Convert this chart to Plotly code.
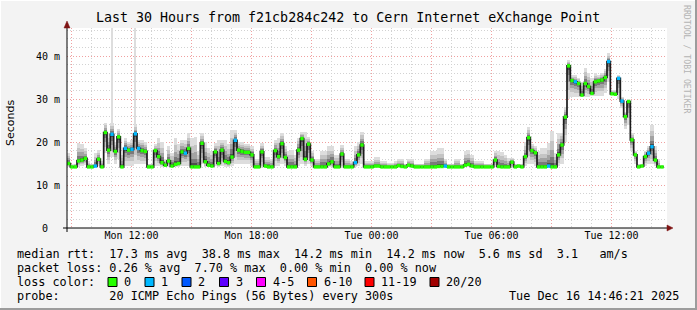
import plotly.graph_objects as go
from datetime import datetime, timedelta

# ---------------- data ----------------
title_text = "Last 30 Hours from f21cb284c242 to Cern Internet eXchange Point"
start = datetime(2025, 12, 15, 8, 46, 21)
end = start + timedelta(hours=30)
step_minutes = 10

median_ms = [
    15.0, 14.2, 14.2, 15.6, 15.8, 16.2, 14.2, 14.2, 14.4, 16.0,
    14.2, 22.2, 18.1, 21.8, 17.8, 21.2, 14.2, 18.5, 18.1, 18.3,
    21.9, 18.5, 18.0, 17.8, 14.2, 14.2, 18.0, 16.6, 15.2, 14.6,
    15.6, 14.4, 14.8, 15.0, 17.7, 17.4, 18.5, 14.2, 14.2, 14.2,
    19.7, 15.4, 14.6, 14.4, 17.7, 15.0, 18.1, 15.5, 15.2, 16.5,
    20.4, 18.1, 17.8, 17.6, 17.6, 17.0, 14.2, 14.2, 17.7, 14.4,
    14.2, 14.2, 18.0, 16.6, 19.6, 16.4, 14.2, 14.2, 14.2, 18.1,
    20.8, 16.0, 19.5, 15.8, 14.2, 14.2, 14.2, 14.2, 14.9, 15.4,
    14.2, 14.2, 17.2, 14.2, 14.2, 14.2, 15.2, 17.0, 19.3, 14.2,
    14.2, 14.2, 14.4, 14.4, 14.2, 14.2, 14.2, 14.2, 14.2, 14.5,
    14.3, 14.2, 14.6, 14.4, 14.2, 14.2, 14.2, 14.2, 14.2, 14.2,
    14.2, 14.3, 14.3, 14.4, 14.2, 14.2, 14.2, 14.2, 14.2, 14.6,
    14.8, 14.4, 14.2, 14.2, 14.2, 14.2, 14.2, 14.2, 15.8, 14.3,
    14.2, 14.2, 14.2, 15.3, 14.2, 14.4, 14.2, 16.6, 21.0, 18.0,
    17.5, 14.2, 14.2, 14.2, 14.4, 14.2, 14.2, 17.0, 19.3, 25.8,
    37.7, 34.3, 34.0, 33.6, 30.9, 33.6, 32.9, 31.3, 34.0, 34.2,
    34.4, 35.0, 38.7, 31.2, 31.1, 34.8, 29.5, 25.9, 29.4, 20.5,
    17.0, 14.2, 14.4, 16.6, 17.4, 18.9, 15.8, 14.2, 14.2, None,
]
smoke_hi_ms = [
    17.5, 14.8, 15.0, 19.8, 19.5, 18.5, 15.5, 15.0, 17.4, 18.1,
    15.5, 24.5, 22.0, 24.4, 20.0, 23.0, 17.0, 21.0, 20.0, 20.5,
    24.0, 20.5, 20.5, 20.0, 15.0, 15.0, 19.5, 21.0, 20.0, 16.0,
    19.0, 17.5, 21.0, 19.5, 20.5, 20.5, 22.0, 21.0, 21.2, 18.0,
    22.0, 20.0, 18.5, 18.0, 19.7, 20.5, 20.5, 20.5, 19.5, 22.8,
    22.8, 20.0, 20.0, 19.5, 19.5, 19.0, 16.0, 16.0, 19.7, 16.5,
    16.5, 16.0, 20.5, 21.0, 22.0, 19.0, 18.0, 18.1, 17.0, 21.0,
    22.4, 22.4, 21.2, 18.0, 16.0, 16.0, 18.0, 18.0, 19.0, 19.0,
    17.0, 17.0, 19.3, 16.0, 16.0, 15.5, 19.0, 20.0, 22.4, 15.5,
    15.5, 15.5, 16.5, 16.5, 15.5, 15.5, 15.2, 15.2, 15.5, 16.0,
    16.0, 15.0, 16.0, 16.0, 15.0, 15.0, 15.0, 16.0, 16.0, 18.0,
    18.0, 18.5, 18.5, 16.0, 15.0, 15.0, 16.0, 16.0, 15.0, 18.0,
    18.1, 17.0, 15.5, 15.5, 15.5, 15.0, 15.0, 15.0, 18.0, 18.0,
    17.7, 17.0, 16.2, 16.2, 15.0, 15.0, 15.0, 20.0, 23.5, 19.5,
    19.0, 18.0, 18.5, 18.5, 19.7, 22.5, 17.4, 22.1, 22.1, 28.2,
    39.1, 35.5, 35.5, 35.0, 34.0, 37.2, 36.0, 35.0, 36.0, 35.5,
    36.0, 37.0, 40.6, 32.0, 32.0, 35.5, 30.5, 27.0, 30.0, 22.1,
    18.0, 15.0, 15.0, 18.0, 19.0, 24.0, 19.0, 16.0, 14.6, None,
]
smoke_lo_ms = [
    14.2, 14.1, 14.1, 14.3, 14.5, 14.6, 14.1, 14.1, 14.1, 14.5,
    14.1, 17.5, 15.0, 16.5, 15.0, 16.0, 14.1, 14.5, 14.5, 14.5,
    15.0, 14.8, 14.8, 14.8, 14.1, 14.1, 14.5, 14.5, 14.3, 14.2,
    14.3, 14.1, 14.2, 14.2, 14.5, 14.5, 14.5, 14.1, 14.1, 14.1,
    15.0, 14.2, 14.2, 14.1, 14.5, 14.2, 14.5, 14.2, 14.2, 14.5,
    15.0, 15.0, 15.0, 15.0, 15.0, 14.5, 14.1, 14.1, 14.5, 14.1,
    14.1, 14.1, 14.5, 14.5, 15.0, 14.5, 14.1, 14.1, 14.1, 14.5,
    15.0, 14.5, 15.0, 14.5, 14.1, 14.1, 14.1, 14.1, 14.2, 14.2,
    14.1, 14.1, 14.5, 14.1, 14.1, 14.1, 14.2, 14.5, 15.0, 14.1,
    14.1, 14.1, 14.1, 14.1, 14.1, 14.1, 14.1, 14.1, 14.1, 14.1,
    14.1, 14.1, 14.1, 14.1, 14.1, 14.1, 14.1, 14.1, 14.1, 14.1,
    14.1, 14.1, 14.1, 14.1, 14.1, 14.1, 14.1, 14.1, 14.1, 14.1,
    14.2, 14.1, 14.1, 14.1, 14.1, 14.1, 14.1, 14.1, 14.2, 14.1,
    14.1, 14.1, 14.1, 14.2, 14.1, 14.1, 14.1, 14.5, 15.0, 15.0,
    14.5, 14.1, 14.1, 14.1, 14.1, 14.1, 14.1, 14.5, 15.0, 20.0,
    30.0, 30.5, 30.5, 30.5, 30.5, 30.5, 30.5, 30.8, 30.8, 30.8,
    30.8, 31.5, 34.0, 31.0, 31.0, 30.0, 28.0, 23.0, 24.0, 18.0,
    15.0, 14.1, 14.1, 14.5, 15.0, 15.0, 14.5, 14.1, 14.1, None,
]
lost_pings = [
    0, 0, 0, 0, 0, 0, 0, 0, 1, 0,
    0, 0, 0, 1, 0, 0, 0, 1, 0, 1,
    1, 1, 0, 0, 0, 0, 0, 0, 0, 0,
    0, 0, 0, 0, 0, 1, 0, 0, 0, 0,
    0, 0, 0, 0, 0, 0, 0, 0, 0, 0,
    1, 0, 0, 0, 0, 0, 0, 0, 0, 0,
    0, 0, 0, 0, 0, 0, 0, 0, 0, 0,
    0, 0, 0, 0, 0, 0, 0, 0, 0, 0,
    0, 0, 0, 0, 0, 0, 1, 0, 0, 0,
    0, 0, 0, 0, 0, 0, 0, 0, 0, 0,
    0, 0, 0, 0, 0, 0, 0, 0, 0, 0,
    0, 0, 0, 1, 0, 0, 0, 0, 0, 0,
    0, 0, 0, 0, 0, 0, 0, 0, 0, 0,
    0, 0, 0, 0, 0, 0, 0, 0, 0, 0,
    0, 0, 0, 0, 1, 0, 0, 0, 0, 0,
    0, 0, 1, 0, 0, 0, 0, 0, 0, 0,
    0, 0, 1, 0, 0, 1, 1, 0, 0, 0,
    0, 0, 0, 0, 1, 1, 0, 0, 0, 0,
]
outlier_idx = [13, 20]
outlier_ms = [47.0, 47.0]

x_tick_vals = ["2025-12-15 09:00", "2025-12-15 12:00", "2025-12-15 15:00",
               "2025-12-15 18:00", "2025-12-15 21:00", "2025-12-16 00:00",
               "2025-12-16 03:00", "2025-12-16 06:00", "2025-12-16 09:00",
               "2025-12-16 12:00"]
x_tick_text = ["", "Mon 12:00", "", "Mon 18:00", "", "Tue 00:00", "",
               "Tue 06:00", "", "Tue 12:00"]
y_tick_vals = [0, 10, 20, 30, 40]
y_tick_text = ["0\u00a0\u00a0", "10 m", "20 m", "30 m", "40 m"]

loss_labels = ["0", "1", "2", "3", "4-5", "6-10", "11-19", "20/20"]
loss_colors = ["#26ff00", "#00b8ff", "#0059ff", "#5e00ff", "#ff00ff",
               "#ff5500", "#ff0000", "#a10000"]
loss_upper = [0, 1, 2, 3, 5, 10, 19, 20]

rtt_stats = [("17.3 ms", "avg"), ("38.8 ms", "max"), ("14.2 ms", "min"),
             ("14.2 ms", "now"), ("5.6 ms", "sd"), ("3.1", "\u00a0\u00a0am/s")]
loss_stats = [("0.26 %", "avg"), ("7.70 %", "max"), ("0.00 %", "min"),
              ("0.00 %", "now")]
probe_text = "20 ICMP Echo Pings (56 Bytes) every 300s"
stamp_text = "Tue Dec 16 14:46:21 2025"
credit_text = "RRDTOOL / TOBI OETIKER"

# ---------------- helpers ----------------
W, H = 697, 310
L, R, T, B = 67, 667, 28, 228
MONO = "DejaVu Sans Mono"


def px(x):
    return (x - L) / (R - L)


def py(y):
    return (B - y) / (B - T)


NB = "\u00a0"
step = timedelta(minutes=step_minutes)
centers = [start + step * i + step / 2 for i in range(len(median_ms))]
step_ms = step_minutes * 60 * 1000

fig = go.Figure()

# smoke (distribution of pings)
fracs = [1.0, 0.72, 0.48, 0.28, 0.12]
grays = ["#dddddd", "#c4c4c4", "#a3a3a3", "#7a7a7a", "#4e4e4e"]
for k, (f, g) in enumerate(zip(fracs, grays)):
    base, hgt = [], []
    for m, lo, hi in zip(median_ms, smoke_lo_ms, smoke_hi_ms):
        if m is None:
            base.append(None)
            hgt.append(None)
            continue
        b = m - (m - lo) * f
        t = m + (hi - m) * f
        base.append(b)
        hgt.append(max(t - b, 0))
    fig.add_trace(go.Bar(x=centers, y=hgt, base=base, width=step_ms,
                         marker=dict(color=g, line_width=0),
                         hoverinfo="skip", showlegend=False))
    if k == 0:
        ox = [centers[i] for i in outlier_idx]
        ob = [smoke_hi_ms[i] for i in outlier_idx]
        oh = [v - smoke_hi_ms[i] for i, v in zip(outlier_idx, outlier_ms)]
        fig.add_trace(go.Bar(x=ox, y=oh, base=ob, width=step_ms * 0.6,
                             marker=dict(color=g, line_width=0),
                             hoverinfo="skip", showlegend=False))

# median line
fig.add_trace(go.Scatter(x=centers, y=median_ms, mode="lines",
                         line=dict(color="#1c1c1c", width=1.7, shape="hvh"),
                         hoverinfo="skip", showlegend=False))


def bucket(n):
    for j, u in enumerate(loss_upper):
        if n <= u:
            return j
    return len(loss_upper) - 1


for j, col in enumerate(loss_colors):
    xs, ys = [], []
    for c, m, n in zip(centers, median_ms, lost_pings):
        if m is None or bucket(n) != j:
            continue
        xs += [c - step / 2, c + step / 2, None]
        ys += [m, m, None]
    if xs:
        fig.add_trace(go.Scatter(x=xs, y=ys, mode="lines",
                                 line=dict(color=col, width=3.4),
                                 hoverinfo="skip", showlegend=False))

# ---------------- decorations ----------------
shapes = []
ann = []


def note(x, y, text, **kw):
    d = dict(x=px(x), y=py(y), xref="paper", yref="paper", text=text,
             showarrow=False, borderpad=0)
    d.update(kw)
    ann.append(d)


# outer frame
shapes.append(dict(type="rect", xref="paper", yref="paper", x0=px(0), x1=px(W),
                   y0=py(0), y1=py(1), fillcolor="#ffffff", line_width=0, layer="below"))
shapes.append(dict(type="rect", xref="paper", yref="paper", x0=px(0), x1=px(1),
                   y0=py(0), y1=py(H), fillcolor="#ffffff", line_width=0, layer="below"))
shapes.append(dict(type="rect", xref="paper", yref="paper", x0=px(W - 2), x1=px(W),
                   y0=py(0), y1=py(H), fillcolor="#9c9c9c", line_width=0))
shapes.append(dict(type="rect", xref="paper", yref="paper", x0=px(0), x1=px(W),
                   y0=py(H - 2), y1=py(H), fillcolor="#9c9c9c", line_width=0))

# axes with arrows
shapes.append(dict(type="line", xref="paper", yref="paper", x0=px(63), x1=px(668),
                   y0=py(228), y1=py(228), line=dict(color="#000000", width=1)))
shapes.append(dict(type="line", xref="paper", yref="paper", x0=px(67), x1=px(67),
                   y0=py(232), y1=py(26), line=dict(color="#000000", width=1)))
shapes.append(dict(type="path", xref="paper", yref="paper",
                   path=f"M {px(667)},{py(225)} L {px(673)},{py(228)} L {px(667)},{py(231)} Z",
                   fillcolor="#7f1414", line=dict(color="#7f1414", width=0.5)))
shapes.append(dict(type="path", xref="paper", yref="paper",
                   path=f"M {px(64)},{py(28)} L {px(67)},{py(21)} L {px(70)},{py(28)} Z",
                   fillcolor="#7f1414", line=dict(color="#7f1414", width=0.5)))

# title, y label, credit
note(347.5, 18, title_text, xanchor="center", yanchor="middle",
     font=dict(family=MONO, size=13.3, color="#000000"))
note(10, 123, "Seconds", textangle=-90, xanchor="center", yanchor="middle",
     font=dict(family="DejaVu Sans", size=11, color="#000000"))
note(687, 59, credit_text, textangle=90, xanchor="center", yanchor="middle",
     font=dict(family=MONO, size=8.2, color="#b4b4b4"))

LEG = 11.8
line1 = "median rtt:" + NB * 2 + (NB * 2).join(f"{v} {u}" for v, u in rtt_stats)
line2 = "packet loss:" + NB + (NB * 2).join(f"{v} {u}" for v, u in loss_stats)
line3 = "loss color:"
line4 = "probe:" + NB * 7 + probe_text
for txt, yy in [(line1, 254), (line2, 268), (line3, 282), (line4, 296)]:
    note(16, yy, txt.replace(" ", NB), xanchor="left", yanchor="middle",
         font=dict(family=MONO, size=LEG, color="#000000"))
note(680, 296, stamp_text.replace(" ", NB), xanchor="right", yanchor="middle",
     font=dict(family=MONO, size=LEG, color="#000000"))

box_left = [108, 145, 182, 219.5, 256.5, 307.5, 365, 430]
for bl, lab, col in zip(box_left, loss_labels, loss_colors):
    shapes.append(dict(type="rect", xref="paper", yref="paper", x0=px(bl), x1=px(bl + 9),
                       y0=py(286.5), y1=py(277.5), fillcolor=col,
                       line=dict(color="#000000", width=1)))
    note(bl + 15, 282, lab, xanchor="left", yanchor="middle",
         font=dict(family=MONO, size=LEG, color="#000000"))

fig.update_layout(
    width=W, height=H,
    margin=dict(l=L, r=W - R, t=T, b=H - B, pad=0),
    paper_bgcolor="#f3f3f3", plot_bgcolor="#ffffff",
    barmode="overlay", bargap=0,
    showlegend=False,
    shapes=shapes, annotations=ann,
    xaxis=dict(type="date", range=[start, end], tickmode="array",
               tickvals=x_tick_vals, ticktext=x_tick_text,
               showgrid=True, gridcolor="#f0a0a0", griddash="1px,2px", gridwidth=1,
               minor=dict(dtick=3600000, tick0="2025-12-15 00:00", showgrid=True,
                          gridcolor="#d2d2d2", griddash="1px,2px", gridwidth=1),
               ticks="", showline=False, zeroline=False, fixedrange=True,
               tickfont=dict(family=MONO, size=10, color="#000000")),
    yaxis=dict(range=[0, (B - T) / 4.3], tickmode="array",
               tickvals=y_tick_vals, ticktext=y_tick_text,
               showgrid=True, gridcolor="#f0a0a0", griddash="1px,2px", gridwidth=1,
               minor=dict(dtick=2, tick0=0, showgrid=True,
                          gridcolor="#d2d2d2", griddash="1px,2px", gridwidth=1),
               ticks="", showline=False, zeroline=False, fixedrange=True,
               ticklabelstandoff=6,
               tickfont=dict(family=MONO, size=10, color="#000000")),
)

fig.write_html("out.html")
